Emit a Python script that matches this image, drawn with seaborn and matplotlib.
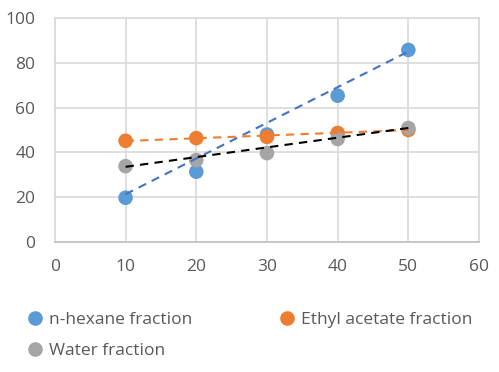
import numpy as np
import pandas as pd
import matplotlib
matplotlib.use("Agg")
import matplotlib.pyplot as plt
import seaborn as sns
from matplotlib.lines import Line2D

x_vals = [10, 20, 30, 40, 50]
hexane = [19.8, 31.4, 48.0, 65.3, 85.7]
ethyl = [45.2, 46.4, 46.9, 48.7, 50.0]
water = [33.9, 36.6, 39.7, 46.0, 50.9]
series_names = ["n-hexane fraction", "Ethyl acetate fraction", "Water fraction"]

# linear trend lines (value at x=10 and x=50)
trend_x = [10, 50]
hexane_trend = [21.4, 85.0]
ethyl_trend = [45.1, 50.0]
water_trend = [33.6, 50.9]

marker_colors = ["#5B9BD5", "#ED7D31", "#A5A5A5"]
trend_colors = ["#4472C4", "#ED7D31", "#000000"]

sns.set_style("white")
plt.rcParams['font.family'] = ['Open Sans', 'DejaVu Sans']

df = pd.DataFrame({
    "x": x_vals * 3,
    "y": hexane + ethyl + water,
    "series": sum([[n] * len(x_vals) for n in series_names], []),
})
tdf = pd.DataFrame({
    "x": trend_x * 3,
    "y": hexane_trend + ethyl_trend + water_trend,
    "series": sum([[n] * len(trend_x) for n in series_names], []),
})

fig = plt.figure(figsize=(4.99, 3.72), dpi=100)
ax = fig.add_axes([0.110, 0.349, 0.850, 0.603])

sns.scatterplot(data=df, x="x", y="y", hue="series", palette=marker_colors,
                hue_order=series_names, s=110, linewidth=0, ax=ax, legend=False, zorder=3)
sns.lineplot(data=tdf, x="x", y="y", hue="series", palette=trend_colors,
             hue_order=series_names, ax=ax, legend=False, lw=1.5, zorder=4)
for ln in ax.get_lines():
    ln.set_linestyle((0, (4, 3)))

ax.set_xlim(0, 60)
ax.set_ylim(0, 100)
ax.set_xticks(range(0, 61, 10))
ax.set_yticks(range(0, 101, 20))
ax.set_xlabel("")
ax.set_ylabel("")
ax.grid(True, color="#D9D9D9", lw=1.2)
ax.set_axisbelow(True)
for s in ["top", "right", "left"]:
    ax.spines[s].set_color("#D9D9D9")
    ax.spines[s].set_linewidth(1.2)
ax.spines["bottom"].set_color("#BFBFBF")
ax.spines["bottom"].set_linewidth(1.2)
ax.tick_params(axis="both", length=0, labelsize=12.5, labelcolor="#595959")
ax.tick_params(axis="x", pad=12)
ax.tick_params(axis="y", pad=14)

order = [0, 2, 1]
handles = [Line2D([], [], marker="o", ls="", color=marker_colors[i], markersize=9.5) for i in order]
labels = [series_names[i] for i in order]
fig.legend(handles, labels, loc="upper left", bbox_to_anchor=(0.021, 0.203), ncol=2,
           frameon=False, fontsize=12.5, labelcolor="#595959", handletextpad=0.3,
           columnspacing=5.0, handlelength=1.0, labelspacing=0.85)

fig.savefig("out.png", dpi=100)
